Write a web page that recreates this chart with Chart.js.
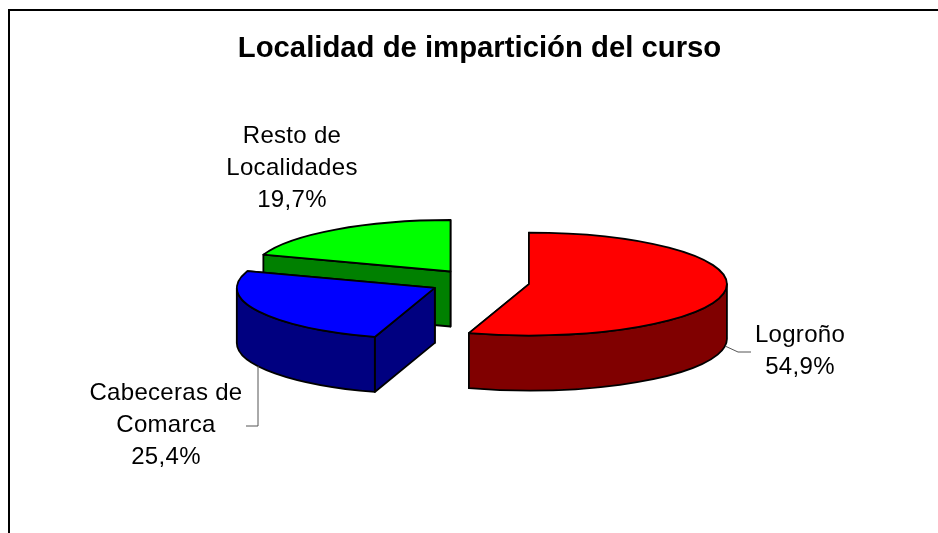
<!DOCTYPE html>
<html>
<head>
<meta charset="utf-8">
<title>Localidad de impartición del curso</title>
<script src="https://cdn.jsdelivr.net/npm/chart.js@4"></script>
<style>
  html, body { margin: 0; padding: 0; background: #fff; }
  #wrap { width: 938px; height: 533px; }
</style>
</head>
<body>
<div id="wrap"><canvas id="myChart"></canvas></div>
<script>
var chartTitle = 'Localidad de impartición del curso';
var categories = ['Logroño', 'Cabeceras de Comarca', 'Resto de Localidades'];
var labelLines = [['Logroño'], ['Cabeceras de', 'Comarca'], ['Resto de', 'Localidades']];
var shares = [54.9, 25.4, 19.7];
var topColors = ['#ff0000', '#0000ff', '#00ff00'];
var wallColors = ['#800000', '#000080', '#008000'];

// the 3d look: chart.js has no 3d pie so flatten its arcs and add the walls
var flatten = 0.26;
var depth = 55;
var explode = 50;
var lineWidth = 1.8;
var labelFont = '24px "Liberation Sans", Arial, sans-serif';

// label centre x and first baseline
var labelSpots = [[800, 342], [166, 400], [292, 143]];
var labelStep = 32;
var leaders = [
  [[725, 346], [738, 352], [751, 352]],
  [[258, 366], [258, 426], [246, 426]]
];

function slicePath(ctx, p) {
  ctx.beginPath();
  ctx.moveTo(p.x, p.y);
  ctx.ellipse(p.x, p.y, p.r, p.r * flatten, 0, p.start, p.end);
  ctx.closePath();
}

function drawWalls(ctx, p, color) {
  var edge = function(a) {
    return [p.x + Math.cos(a) * p.r, p.y + Math.sin(a) * p.r * flatten];
  };
  ctx.fillStyle = color;
  ctx.strokeStyle = '#000';
  ctx.lineWidth = lineWidth;
  ctx.lineJoin = 'round';

  // flat sides, the end one faces away so it goes first
  [p.end, p.start].forEach(function(a) {
    var e = edge(a);
    ctx.beginPath();
    ctx.moveTo(p.x, p.y);
    ctx.lineTo(e[0], e[1]);
    ctx.lineTo(e[0], e[1] + depth);
    ctx.lineTo(p.x, p.y + depth);
    ctx.closePath();
    ctx.fill();
    ctx.stroke();
  });

  // round side, only the part facing us
  var from = Math.max(p.start, 0);
  var to = Math.min(p.end, Math.PI);
  if (to > from) {
    ctx.beginPath();
    ctx.ellipse(p.x, p.y, p.r, p.r * flatten, 0, from, to);
    ctx.ellipse(p.x, p.y + depth, p.r, p.r * flatten, 0, to, from, true);
    ctx.closePath();
    ctx.fill();
    ctx.stroke();
  }
}

var pie3d = {
  id: 'pie3d',
  beforeDraw: function(chart) {
    var ctx = chart.ctx;
    ctx.save();
    ctx.fillStyle = '#fff';
    ctx.fillRect(0, 0, chart.width, chart.height);
    ctx.strokeStyle = '#000';
    ctx.lineWidth = 2;
    ctx.beginPath();
    ctx.moveTo(chart.width, 10);
    ctx.lineTo(9, 10);
    ctx.lineTo(9, chart.height);
    ctx.stroke();
    ctx.restore();
  },
  beforeDatasetsDraw: function(chart) {
    var ctx = chart.ctx;
    var arcs = chart.getDatasetMeta(0).data;

    // back to front: green, blue, red
    [2, 1, 0].forEach(function(i) {
      var arc = arcs[i];
      var mid = (arc.startAngle + arc.endAngle) / 2;
      var p = {
        x: arc.x + Math.cos(mid) * explode,
        y: arc.y + Math.sin(mid) * explode * flatten,
        r: arc.outerRadius,
        start: arc.startAngle,
        end: arc.endAngle
      };

      ctx.save();
      drawWalls(ctx, p, wallColors[i]);

      ctx.save();
      ctx.translate(p.x, p.y);
      ctx.scale(1, flatten);
      ctx.translate(-arc.x, -arc.y);
      arc.draw(ctx);
      ctx.restore();

      ctx.strokeStyle = '#000';
      ctx.lineWidth = lineWidth;
      slicePath(ctx, p);
      ctx.stroke();
      ctx.restore();
    });

    return false;
  },
  afterDraw: function(chart) {
    var ctx = chart.ctx;
    ctx.save();
    ctx.strokeStyle = '#555';
    ctx.lineWidth = 1;
    leaders.forEach(function(pts) {
      ctx.beginPath();
      pts.forEach(function(pt, n) {
        if (n === 0) ctx.moveTo(pt[0], pt[1]);
        else ctx.lineTo(pt[0], pt[1]);
      });
      ctx.stroke();
    });

    ctx.fillStyle = '#000';
    ctx.font = labelFont;
    ctx.letterSpacing = '0.3px';
    ctx.textAlign = 'center';
    ctx.textBaseline = 'alphabetic';
    categories.forEach(function(name, i) {
      var lines = labelLines[i].concat(shares[i].toFixed(1).replace('.', ',') + '%');
      lines.forEach(function(line, n) {
        ctx.fillText(line, labelSpots[i][0], labelSpots[i][1] + n * labelStep);
      });
    });
    ctx.restore();
  }
};

var myChart = new Chart(document.getElementById('myChart'), {
  type: 'pie',
  data: {
    labels: categories,
    datasets: [{
      data: shares,
      backgroundColor: topColors,
      borderWidth: 0,
      radius: 198
    }]
  },
  options: {
    responsive: true,
    maintainAspectRatio: false,
    animation: false,
    layout: { padding: { left: 21, right: 0, top: 0, bottom: 43 } },
    plugins: {
      legend: { display: false },
      tooltip: { enabled: false },
      title: {
        display: true,
        text: chartTitle,
        color: '#000',
        font: { family: '"Liberation Sans", Arial, sans-serif', size: 29.3, weight: 'bold' },
        padding: { top: 31, bottom: 8 }
      }
    }
  },
  plugins: [pie3d]
});
</script>
</body>
</html>
